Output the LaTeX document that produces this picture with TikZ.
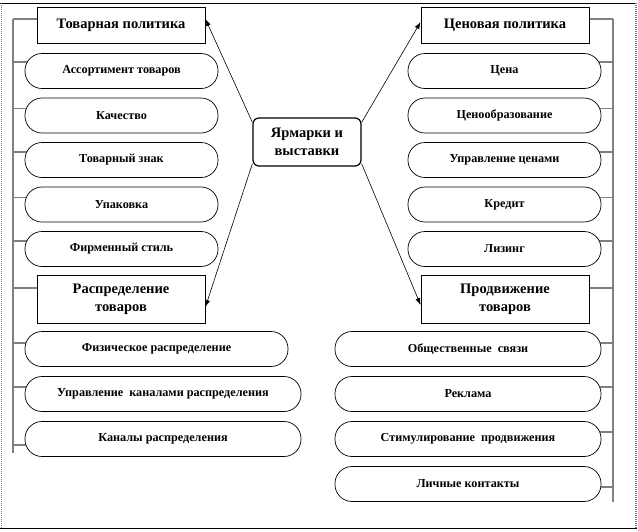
\documentclass[tikz,border=0pt]{standalone}
\usepackage{fontspec}
\setmainfont{Liberation Serif}
\usetikzlibrary{arrows.meta,backgrounds,positioning}

\begin{document}
\begin{tikzpicture}[x=1pt,y=-1pt,
    head/.style={draw,line width=0.8pt,fill=white,minimum width=168pt,inner sep=0pt,align=center,font=\bfseries\fontsize{14.5}{18}\selectfont},
    item/.style={draw,line width=0.7pt,fill=white,rounded corners=17pt,minimum height=35pt,inner sep=0pt,font=\bfseries\fontsize{12.2}{14}\selectfont},
    bar/.style={gray,line width=1.8pt},
    tick/.style={gray,line width=1.4pt},
    arr/.style={-{Latex[length=7pt,width=5pt]},line width=0.6pt}]
        \useasboundingbox (0,0) rectangle (638,531);
        \draw[line width=0.8pt] (0,3)--(637,3) (0,528)--(637,528);
        \draw[line width=1.6pt,gray,dash pattern=on 1pt off 1pt] (1.5,3)--(1.5,528) (636,3)--(636,528);

        \node[draw,line width=1.2pt,rounded corners=6pt,fill=white,minimum width=108pt,minimum height=48pt,align=center,font=\bfseries\fontsize{14.5}{18}\selectfont] (fair) at (307,142) {Ярмарки и\\выставки};

        \node[head,minimum height=36pt] (tovpol) at (121,25) {Товарная политика};
        \node[head,minimum height=36pt] (cenpol) at (505,25) {Ценовая политика};
        \node[head,minimum height=48pt] (raspr) at (121,299) {Распределение\\товаров};
        \node[head,minimum height=48pt] (prodv) at (505,299) {Продвижение\\товаров};

        \node[item,minimum width=193pt] (assort) at (121.5,71) {Ассортимент товаров};
        \node[item,minimum width=193pt] (kach) at (121.5,115.5) {Качество};
        \node[item,minimum width=193pt] (znak) at (121.5,160) {Товарный знак};
        \node[item,minimum width=193pt] (upak) at (121.5,204.5) {Упаковка};
        \node[item,minimum width=193pt] (stil) at (121.5,249) {Фирменный стиль};

        \node[item,minimum width=193pt] (cena) at (504.5,71) {Цена};
        \node[item,minimum width=193pt] (obraz) at (504.5,115.5) {Ценообразование};
        \node[item,minimum width=193pt] (uprcen) at (504.5,160) {Управление ценами};
        \node[item,minimum width=193pt] (kredit) at (504.5,204.5) {Кредит};
        \node[item,minimum width=193pt] (lizing) at (504.5,249) {Лизинг};

        \node[item,minimum width=263pt] (fiz) at (156.5,349) {Физическое распределение};
        \node[item,minimum width=276pt] (uprkan) at (163,394) {Управление~ каналами распределения};
        \node[item,minimum width=276pt] (kanal) at (163,439) {Каналы распределения};

        \node[item,minimum width=266pt] (obsch) at (468,349) {Общественные~ связи};
        \node[item,minimum width=266pt] (rekl) at (468,394) {Реклама};
        \node[item,minimum width=266pt] (stim) at (468,439) {Стимулирование~ продвижения};
        \node[item,minimum width=266pt] (lichn) at (468,484) {Личные контакты};

        \coordinate (lbar) at (13,19);
        \coordinate (lbarend) at (13,453);
        \coordinate (rbar) at (613,19);
        \coordinate (rbarend) at (613,502);

        \begin{pgfonlayer}{background}
        \draw[bar] (lbar)--(lbarend);
        \draw[bar] (rbar)--(rbarend);
        \draw[tick] ([yshift=6pt]tovpol.west -| lbar)--([xshift=3pt,yshift=6pt]tovpol.west);
        \draw[tick] ([yshift=9pt]assort.west -| lbar)--([xshift=5pt,yshift=9pt]assort.west);
        \draw[tick] ([yshift=7pt]kach.west -| lbar)--([xshift=5pt,yshift=7pt]kach.west);
        \draw[tick] ([yshift=8pt]znak.west -| lbar)--([xshift=5pt,yshift=8pt]znak.west);
        \draw[tick] ([yshift=7pt]upak.west -| lbar)--([xshift=5pt,yshift=7pt]upak.west);
        \draw[tick] ([yshift=8pt]stil.west -| lbar)--([xshift=5pt,yshift=8pt]stil.west);
        \draw[tick] ([yshift=11pt]raspr.west -| lbar)--([xshift=3pt,yshift=11pt]raspr.west);
        \draw[tick] ([yshift=6pt]fiz.west -| lbar)--([xshift=5pt,yshift=6pt]fiz.west);
        \draw[tick] ([yshift=7pt]uprkan.west -| lbar)--([xshift=5pt,yshift=7pt]uprkan.west);
        \draw[tick] ([yshift=-6pt]kanal.west -| lbar)--([xshift=5pt,yshift=-6pt]kanal.west);
        \draw[tick] ([yshift=6pt]cenpol.east -| rbar)--([xshift=-3pt,yshift=6pt]cenpol.east);
        \draw[tick] ([yshift=9pt]cena.east -| rbar)--([xshift=-5pt,yshift=9pt]cena.east);
        \draw[tick] ([yshift=7pt]obraz.east -| rbar)--([xshift=-5pt,yshift=7pt]obraz.east);
        \draw[tick] ([yshift=8pt]uprcen.east -| rbar)--([xshift=-5pt,yshift=8pt]uprcen.east);
        \draw[tick] ([yshift=7pt]kredit.east -| rbar)--([xshift=-5pt,yshift=7pt]kredit.east);
        \draw[tick] ([yshift=8pt]lizing.east -| rbar)--([xshift=-5pt,yshift=8pt]lizing.east);
        \draw[tick] ([yshift=11pt]prodv.east -| rbar)--([xshift=-3pt,yshift=11pt]prodv.east);
        \draw[tick] ([yshift=6pt]obsch.east -| rbar)--([xshift=-5pt,yshift=6pt]obsch.east);
        \draw[tick] ([yshift=7pt]rekl.east -| rbar)--([xshift=-5pt,yshift=7pt]rekl.east);
        \draw[tick] ([yshift=7pt]stim.east -| rbar)--([xshift=-5pt,yshift=7pt]stim.east);
        \draw[tick] ([yshift=-3pt]lichn.east -| rbar)--([xshift=-5pt,yshift=-3pt]lichn.east);
        \end{pgfonlayer}

        \draw[arr] ([yshift=-5pt]fair.north west)--([yshift=6pt]tovpol.east);
        \draw[arr] ([yshift=3pt]fair.south west)--([yshift=-8pt]raspr.east);
        \draw[arr] ([yshift=-5pt]fair.north east)--([yshift=3pt]cenpol.west);
        \draw[arr] ([yshift=3pt]fair.south east)--([yshift=-6pt]prodv.west);
    \end{tikzpicture}
\end{document}
